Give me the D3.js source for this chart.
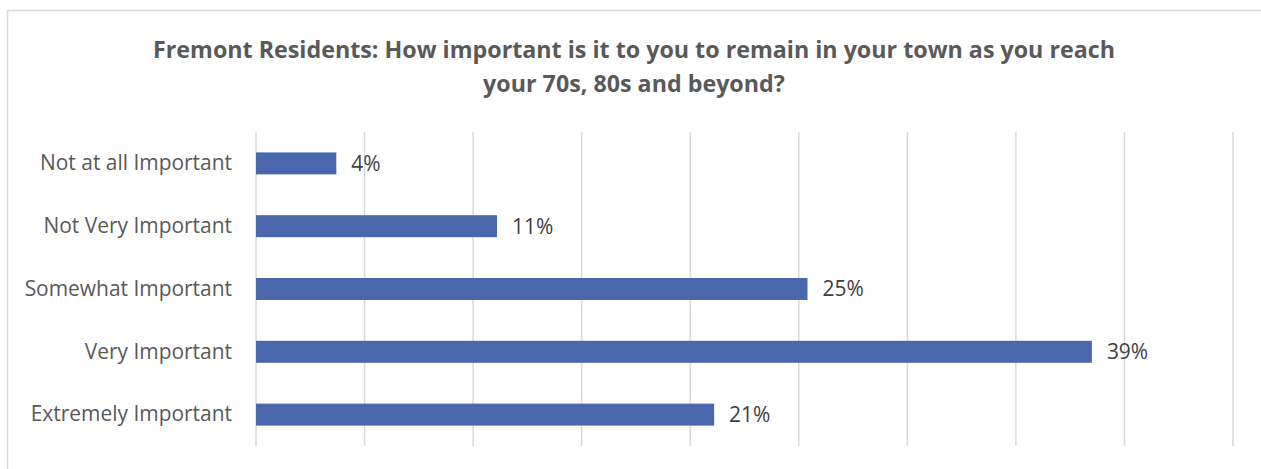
<!DOCTYPE html>
<html>
<head>
<meta charset="utf-8">
<script src="https://cdn.jsdelivr.net/npm/d3@7"></script>
<style>
  body { margin: 0; background: #fff; }
  text { font-family: "Open Sans", "DejaVu Sans", sans-serif; }
</style>
</head>
<body>
<svg id="barChart" width="1261" height="469"></svg>
<script>
var categories = ["Not at all Important", "Not Very Important", "Somewhat Important", "Very Important", "Extremely Important"];
var shares = [0.037, 0.111, 0.254, 0.385, 0.211];
var shareLabels = ["4%", "11%", "25%", "39%", "21%"];
var titleLines = ["Fremont Residents: How important is it to you to remain in your town as you reach",
                  "your 70s, 80s and beyond?"];

var svg = d3.select("#barChart"),
    plotLeft = 256, plotRight = 1233,
    plotTop = 132, plotBottom = 446;

var data = categories.map(function(c, i) {
    return { cat: c, value: shares[i], label: shareLabels[i] };
});

var xScale = d3.scaleLinear().domain([0, 0.45]).range([plotLeft, plotRight]),
    yScale = d3.scaleBand().domain(categories).range([plotTop, plotBottom])
        .paddingInner(0.65).paddingOuter(0.325);

// squeeze wider fallback fonts towards Calibri widths
function squeeze(sel, k) {
    sel.each(function() {
        var len = this.getComputedTextLength();
        d3.select(this).attr("textLength", len * k).attr("lengthAdjust", "spacingAndGlyphs");
    });
}

// chart frame
svg.append("rect")
    .attr("x", 7.5).attr("y", 10.5)
    .attr("width", 1300).attr("height", 500)
    .attr("fill", "#fff")
    .attr("stroke", "#d9d9d9").attr("stroke-width", 1.5);

// title
var title = svg.append("g").selectAll("text")
    .data(titleLines)
    .enter().append("text")
    .attr("x", 634)
    .attr("y", function(d, i) { return 58 + i * 34; })
    .attr("text-anchor", "middle")
    .attr("font-size", 23)
    .attr("font-weight", 700)
    .attr("fill", "#595959")
    .text(function(d) { return d; });
squeeze(title, 962 / title.node().getComputedTextLength());

// vertical gridlines
svg.append("g").selectAll("line")
    .data(xScale.ticks(9))
    .enter().append("line")
    .attr("x1", function(d) { return xScale(d); })
    .attr("x2", function(d) { return xScale(d); })
    .attr("y1", plotTop).attr("y2", plotBottom)
    .attr("stroke", "#d9d9d9").attr("stroke-width", 1.5);

// category axis, no line/ticks
var yAxis = svg.append("g")
    .attr("transform", "translate(" + plotLeft + ",0)")
    .call(d3.axisLeft(yScale).tickSize(0).tickPadding(24));
yAxis.select(".domain").remove();
var catText = yAxis.selectAll("text")
    .attr("font-family", "Open Sans, sans-serif")
    .attr("font-size", 21)
    .attr("fill", "#595959");
var labelK = 192 / catText.node().getComputedTextLength();
squeeze(catText, labelK);

// bars
svg.append("g").selectAll(".bar")
    .data(data)
    .enter().append("rect")
    .attr("class", "bar")
    .attr("x", xScale(0))
    .attr("y", function(d) { return yScale(d.cat); })
    .attr("width", function(d) { return xScale(d.value) - xScale(0); })
    .attr("height", yScale.bandwidth())
    .attr("fill", "#4a66ac");

// value labels
var vals = svg.append("g").selectAll("text")
    .data(data)
    .enter().append("text")
    .attr("x", function(d) { return xScale(d.value) + 15; })
    .attr("y", function(d) { return yScale(d.cat) + yScale.bandwidth() / 2; })
    .attr("dy", "0.35em")
    .attr("font-size", 21)
    .attr("fill", "#404040")
    .text(function(d) { return d.label; });
squeeze(vals, labelK);
</script>
</body>
</html>
